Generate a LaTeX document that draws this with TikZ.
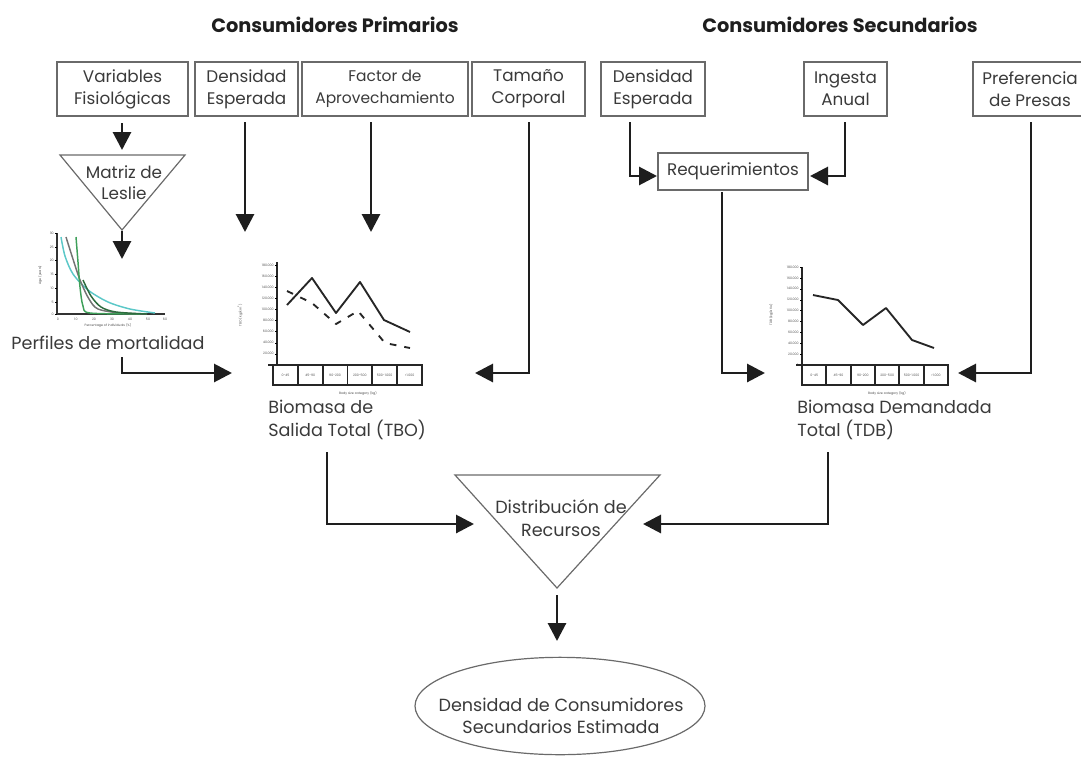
\documentclass[tikz,border=0pt]{standalone}
\usepackage{fontspec}
\setmainfont{Poppins}
\usetikzlibrary{arrows.meta,shapes.geometric,calc}
\definecolor{linec}{HTML}{1E1E1E}
\definecolor{boxc}{HTML}{6A6A6A}
\definecolor{txtc}{HTML}{3A3A3A}
\definecolor{cyanc}{HTML}{5CC8C8}
\definecolor{greenc}{HTML}{3FA05A}
\definecolor{dgreenc}{HTML}{2E6B3E}
\begin{document}
\begin{tikzpicture}[x=0.75pt,y=-0.75pt,
  boxnode/.style={draw=boxc, line width=0.9pt, minimum height=40.5pt, inner sep=0pt,
    align=center, font=\fontsize{12.6}{16.5}\selectfont, text=txtc},
  bw/.style={minimum width=#1*0.75pt},
  conn/.style={line width=2.2pt, draw=linec, -{Triangle[length=13.5pt,width=13.5pt]}},
  lbl/.style={font=\fontsize{13.2}{16.8}\selectfont, text=txtc, inner sep=0pt},
  ttl/.style={font=\bfseries\fontsize{14.5}{17}\selectfont, text=linec, inner sep=0pt},
  tri/.style={draw=boxc, line width=0.9pt},
  tinytxt/.style={font=\fontsize{2.4}{3}\selectfont, text=black!70, inner sep=0pt},
  myaxis/.style={line width=1pt, draw=black!85},
  cellbox/.style={line width=1.3pt, draw=black!85},
  dataline/.style={line width=1.4pt, draw=black!85, line join=round}
]
\useasboundingbox (0,0) rectangle (1081,764);

% titles
\node[ttl] (t1) at (335,25) {Consumidores Primarios};
\node[ttl] (t2) at (840,25) {Consumidores Secundarios};

% top boxes
\node[boxnode, bw=131] (var) at (122.5,89) {Variables\\Fisiológicas};
\node[boxnode, bw=103] (den1) at (246.5,89) {Densidad\\Esperada};
\node[boxnode, bw=166, font=\fontsize{11.6}{16.5}\selectfont] (fac) at (385,89) {Factor de\\Aprovechamiento};
\node[boxnode, bw=113] (tam) at (528.5,89) {Tamaño\\Corporal};
\node[boxnode, bw=104] (den2) at (653,89) {Densidad\\Esperada};
\node[boxnode, bw=83] (ing) at (845.5,89) {Ingesta\\Anual};
\node[boxnode, bw=114] (pref) at (1030,89) {Preferencia\\de Presas};
\node[boxnode, bw=150, minimum height=27.75pt] (req) at (733,171.5) {Requerimientos};

% Matriz de Leslie triangle
\draw[tri] (60,155) -- (185,155) -- (122,230) -- cycle;
\node[lbl, align=center, font=\fontsize{12.6}{16}\selectfont] (les) at (124,183) {Matriz de\\Leslie};
\coordinate (lesapex) at (122,231);

% Distribucion triangle
\draw[tri] (455,475) -- (660,475) -- (557,588) -- cycle;
\node[lbl, align=center] (dis) at (561,518) {Distribución de\\Recursos};
\coordinate (disapex) at (557,595);

% ellipse
\node[ellipse, draw=boxc, line width=0.9pt, minimum width=217.5pt, minimum height=73pt, inner sep=0pt] (dens) at (560,706) {};
\node[lbl, align=center] (denstxt) at (561,716) {Densidad de Consumidores\\Secundarios Estimada};

% labels
\node[lbl] (perf) at (108,343) {Perfiles de mortalidad};
\node[lbl, anchor=north west, align=left] (tbo) at (268,400) {Biomasa de\\Salida Total (TBO)};
\node[lbl, anchor=north west, align=left] (tdb) at (797,400) {Biomasa Demandada\\Total (TDB)};

% ---------- mortality chart ----------
\draw[line width=1.5pt, draw=black!80] (57,233) -- (57,314) -- (165,314);
\foreach \yy/\tl in {233/30,247/25,260/20,274/15,288/10,302/5,314/0}{
  \draw[line width=0.3pt] (55,\yy) -- (57,\yy);
  \node[tinytxt, anchor=east] at (54,\yy) {\tl};}
\foreach \xx/\tl in {58/0,76/10,94/20,112/30,130/40,148/50,165/60}{
  \node[tinytxt] at (\xx,319) {\tl};}
\node[tinytxt] (mx) at (108,325) {Percentage of individuals (\%)};
\node[tinytxt, rotate=90] (my) at (40,275) {Age (years)};
\draw[line width=1.1pt, cyanc] plot[smooth] coordinates {(61,237) (65,256) (73,274) (88,290) (108,302) (130,309) (155,313)};
\draw[line width=1.1pt, black!55] plot[smooth] coordinates {(66,237) (72,256) (80,280) (89,299) (98,309) (120,313) (147,314)};
\draw[line width=1.1pt, greenc] plot[smooth] coordinates {(76,237) (78,262) (80,287) (83,306) (90,313) (140,314)};
\draw[line width=1.1pt, dgreenc] plot[smooth] coordinates {(83,280) (91,296) (101,307) (116,312) (147,314)};

% ---------- middle chart ----------
\draw[myaxis] (277,262) -- (277,365);
\foreach \k/\tl in {0/180.000,1/160.000,2/140.000,3/120.000,4/100.000,5/80.000,6/60.000,7/40.000,8/20.000}{
  \draw[line width=0.3pt] ({275},{265+11.1*\k}) -- (277,{265+11.1*\k});
  \node[tinytxt, anchor=east] at (274,{265+11.1*\k}) {\tl};}
\node[tinytxt, rotate=90] (my2) at (240,315) {TBO (kg/km\textsuperscript{2})};
\draw[cellbox] (268,365) -- (273,365);
\draw[cellbox] (273,365) rectangle (422,385);
\foreach \k in {1,...,5}{\draw[cellbox] ({273+24.83*\k},365) -- ({273+24.83*\k},385);}
\foreach \k/\tl in {0/0-45,1/45-90,2/90-200,3/200-500,4/500-1.000,5/>1.000}{
  \node[tinytxt] at ({285.4+24.83*\k},375) {\tl};}
\node[tinytxt] (bx2) at (358,393) {Body size category (kg)};
\draw[dataline] (287,305) -- (312,278) -- (336,313) -- (360,282) -- (384,320) -- (410,332);
\draw[dataline, dash pattern=on 5pt off 6pt] (287,291) -- (312,303) -- (336,324) -- (358,311) -- (385,343) -- (410,348);

% ---------- right chart ----------
\draw[myaxis] (802,267) -- (802,365);
\foreach \k/\tl in {0/180.000,1/160.000,2/140.000,3/120.000,4/100.000,5/80.000,6/60.000,7/40.000,8/20.000,9/0}{
  \draw[line width=0.3pt] (800,{267+10.9*\k}) -- (802,{267+10.9*\k});
  \node[tinytxt, anchor=east] at (799,{267+10.9*\k}) {\tl};}
\node[tinytxt, rotate=90] (my3) at (771,315) {TDB (kg/año)};
\draw[cellbox] (796,365) -- (802,365);
\draw[cellbox] (802,365) rectangle (948,385);
\foreach \k in {1,...,5}{\draw[cellbox] ({802+24.33*\k},365) -- ({802+24.33*\k},385);}
\foreach \k/\tl in {0/0-45,1/45-90,2/90-200,3/200-500,4/500-1.000,5/>1.000}{
  \node[tinytxt] at ({814.2+24.33*\k},375) {\tl};}
\node[tinytxt] (bx3) at (887,393) {Body size category (kg)};
\draw[dataline] (813,295) -- (838,300) -- (863,325) -- (886,308) -- (912,340) -- (934,348);

% ---------- connectors ----------
\coordinate (a1s) at (122,123); \coordinate (a1e) at (122,150);
\draw[conn] (a1s) -- (a1e);
\coordinate (a2e) at (122,259);
\draw[conn] (lesapex) -- (a2e);
\coordinate (a3s) at (122,357); \coordinate (a3e) at (232,373);
\draw[conn] (a3s) |- (a3e);
\coordinate (a4s) at (245,122); \coordinate (a4e) at (245,232);
\draw[conn] (a4s) -- (a4e);
\coordinate (a5s) at (371,122); \coordinate (a5e) at (371,232);
\draw[conn] (a5s) -- (a5e);
\coordinate (a6s) at (529,122); \coordinate (a6e) at (475,373);
\draw[conn] (a6s) |- (a6e);
\coordinate (b1s) at (630,122); \coordinate (b1e) at (657,176);
\draw[conn] (b1s) |- (b1e);
\coordinate (b2s) at (845,122); \coordinate (b2e) at (810,176);
\draw[conn] (b2s) |- (b2e);
\coordinate (b3s) at (722,192); \coordinate (b3e) at (765,373);
\draw[conn] (b3s) |- (b3e);
\coordinate (b4s) at (1031,122); \coordinate (b4e) at (958,373);
\draw[conn] (b4s) |- (b4e);
\coordinate (c1s) at (327,452); \coordinate (c1e) at (474,524);
\draw[conn] (c1s) |- (c1e);
\coordinate (c2s) at (828,452); \coordinate (c2e) at (643,524);
\draw[conn] (c2s) |- (c2e);
\coordinate (c3e) at (557,641);
\draw[conn] (disapex) -- (c3e);
\end{tikzpicture}
\end{document}
